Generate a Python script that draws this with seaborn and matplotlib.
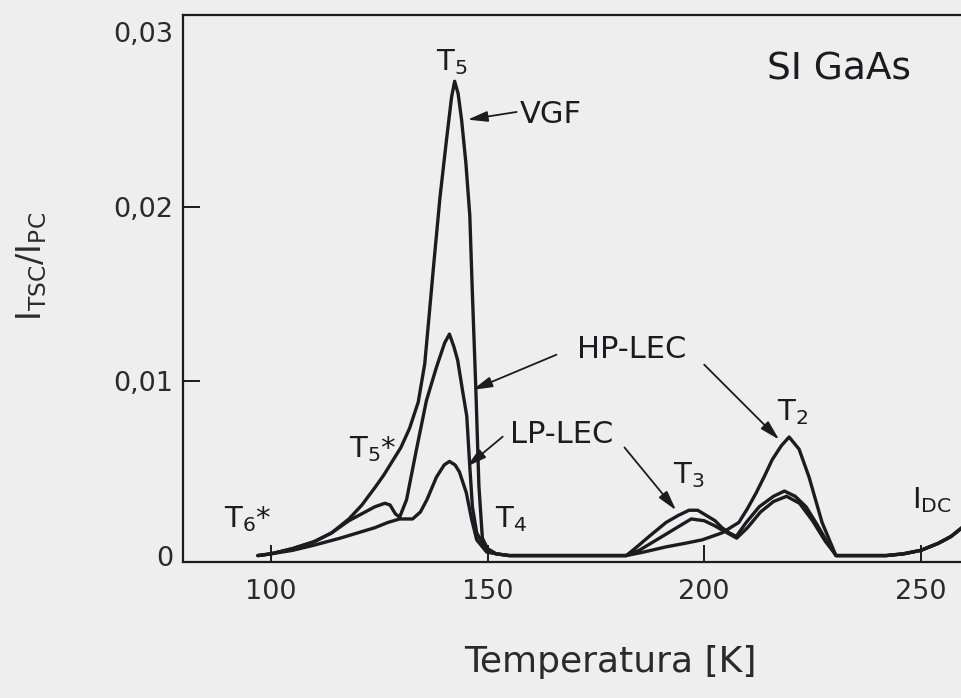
import matplotlib
matplotlib.use("Agg")
import matplotlib.pyplot as plt
import pandas as pd
import seaborn as sns

# Thermally stimulated current spectra (normalised to photocurrent) of SI GaAs samples
temp_vgf = [97, 100, 105, 110, 114, 118, 121, 124, 126, 128,
            130, 132, 134, 135.5, 136.6, 137.5, 139, 140.5, 141.7, 142.4,
            143.2, 144, 145, 145.9, 146.5, 147.3, 148, 148.8, 150, 152,
            155, 182, 185, 189, 193, 197, 200, 202.5, 204.6, 207.5,
            210, 213, 216, 219, 222, 225, 228, 230.5, 242, 246,
            250, 254, 257, 260]
ratio_vgf = [0, 0.0001, 0.0004, 0.0008, 0.0013, 0.0021, 0.0029, 0.0039, 0.0046, 0.0054,
             0.0062, 0.0073, 0.0088, 0.0110, 0.0140, 0.0165, 0.0205, 0.0238, 0.0263, 0.0272,
             0.0265, 0.0250, 0.0225, 0.0195, 0.0150, 0.0095, 0.0040, 0.0010, 0.0004, 0.0001,
             0, 0, 0.0003, 0.0009, 0.0015, 0.0021, 0.0020, 0.0017, 0.0014, 0.0010,
             0.0016, 0.0025, 0.0031, 0.0034, 0.0030, 0.0020, 0.0008, 0, 0, 0.0001,
             0.0003, 0.0007, 0.0011, 0.0017]

temp_hp = [97, 100, 105, 110, 114, 118, 121, 124, 126.3, 127.5,
           128.7, 129.7, 131.3, 133.6, 135.9, 138.2, 140.1, 141.2, 142.2, 143.1,
           144.2, 145.2, 145.9, 146.5, 147.5, 149.8, 152, 155, 182, 186,
           191.2, 195.5, 199.5, 204.1, 208, 210, 212, 214, 215.7, 217.8,
           219.6, 221.9, 224.2, 227.2, 230.4, 242, 246, 250, 254, 257,
           260]
ratio_hp = [0, 0.0001, 0.0004, 0.0008, 0.0013, 0.0020, 0.0024, 0.0028, 0.0030, 0.0029,
            0.0024, 0.0022, 0.0032, 0.0061, 0.0089, 0.0108, 0.0122, 0.0127, 0.0120, 0.0112,
            0.0095, 0.0080, 0.0051, 0.0028, 0.0013, 0.0003, 0.0001, 0, 0, 0.0002,
            0.0005, 0.0007, 0.0009, 0.0013, 0.0019, 0.0027, 0.0036, 0.0046, 0.0055, 0.0063,
            0.0068, 0.0061, 0.0045, 0.0019, 0, 0, 0.0001, 0.0003, 0.0007, 0.0011,
            0.0017]

temp_lp = [97, 100, 105, 110, 116, 120, 124, 127, 129.7, 132.7,
           134.5, 136, 138.2, 140, 141.2, 142.5, 143.5, 145.1, 146.3, 147.5,
           149.8, 152, 155, 182, 184, 187.3, 191.2, 194, 196.5, 198.5,
           200.5, 202.5, 204.1, 205.8, 207.4, 209.7, 212.7, 216, 218.5, 221,
           223.5, 226, 228.1, 230.4, 242, 246, 250, 254, 257, 260]
ratio_lp = [0, 0.0001, 0.0003, 0.0006, 0.0010, 0.0013, 0.0016, 0.0019, 0.0021, 0.0021,
            0.0025, 0.0032, 0.0045, 0.0052, 0.0054, 0.0052, 0.0048, 0.0036, 0.0021, 0.0009,
            0.0002, 0.0001, 0, 0, 0.0004, 0.0011, 0.0019, 0.0023, 0.0026, 0.0026,
            0.0023, 0.0020, 0.0016, 0.0013, 0.0011, 0.0019, 0.0028, 0.0034, 0.0037, 0.0034,
            0.0028, 0.0018, 0.0009, 0, 0, 0.0001, 0.0003, 0.0007, 0.0011, 0.0017]

samples = ["VGF", "HP-LEC", "LP-LEC"]
x_ticks = [100, 150, 200, 250]
x_tick_labels = ["100", "150", "200", "250"]
y_ticks = [0, 0.01, 0.02, 0.03]
y_tick_labels = ["0", "0,01", "0,02", "0,03"]

bg = "#eeeeee"
ink = "#1c1c1e"

sns.set_theme(style="ticks")
plt.rcParams["font.family"] = ["DejaVu Sans"]
plt.rcParams["mathtext.default"] = "regular"

df = pd.concat([
    pd.DataFrame({"T": temp_vgf, "ratio": ratio_vgf, "sample": "VGF"}),
    pd.DataFrame({"T": temp_hp, "ratio": ratio_hp, "sample": "HP-LEC"}),
    pd.DataFrame({"T": temp_lp, "ratio": ratio_lp, "sample": "LP-LEC"}),
], ignore_index=True)

fig = plt.figure(figsize=(9.62, 6.98), dpi=100, facecolor=bg)
ax = fig.add_axes([0.1902, 0.1948, 0.8098, 0.7837])
ax.set_facecolor(bg)

sns.lineplot(data=df, x="T", y="ratio", hue="sample", units="sample",
             estimator=None, sort=False, palette={s: ink for s in samples},
             linewidth=2.4, legend=False, ax=ax)

ax.set_xlim(79.7, 259.5)
ax.set_ylim(-0.00037, 0.0310)
ax.set_xticks(x_ticks)
ax.set_xticklabels(x_tick_labels)
ax.set_yticks(y_ticks)
ax.set_yticklabels(y_tick_labels)
ax.tick_params(direction="in", length=12, width=1.4, colors=ink,
               labelsize=19.5, labelcolor="#2a2a2a")
ax.tick_params(axis="x", pad=12)
ax.tick_params(axis="y", pad=7)
# the outer y ticks sit on the frame corners, only their labels are shown
for i in (0, 3):
    ax.yaxis.get_major_ticks()[i].tick1line.set_visible(False)

for side in ["left", "bottom", "top"]:
    ax.spines[side].set_linewidth(1.6)
    ax.spines[side].set_color(ink)
ax.spines["right"].set_visible(False)

ax.set_xlabel("Temperatura [K]", fontsize=26, color="#2a2a2a")
ax.xaxis.set_label_coords(0.548, -0.183)
ax.xaxis.label.set_verticalalignment("center")
ax.set_ylabel(r"$I_{TSC}/I_{PC}$", fontsize=24, color="#2a2a2a")
ax.yaxis.set_label_coords(-0.172, 0.54)

# Sample labels with arrows pointing to their curves
arrow = dict(arrowstyle="-|>,head_length=0.75,head_width=0.2", color=ink,
             lw=1.3, mutation_scale=16, shrinkA=0, shrinkB=0)
ax.text(164.7, 0.0253, "VGF", fontsize=22, ha="center", va="center", color=ink)
ax.annotate("", xy=(145.4, 0.0250), xytext=(156.7, 0.02544), arrowprops=arrow)

ax.text(183.2, 0.0118, "HP-LEC", fontsize=22, ha="center", va="center", color=ink)
ax.annotate("", xy=(146.5, 0.0095), xytext=(165.9, 0.01152), arrowprops=arrow)
ax.annotate("", xy=(217.3, 0.00665), xytext=(200.0, 0.01095), arrowprops=arrow)

ax.text(167.1, 0.00693, "LP-LEC", fontsize=22, ha="center", va="center", color=ink)
ax.annotate("", xy=(145.2, 0.0051), xytext=(153.5, 0.00682), arrowprops=arrow)
ax.annotate("", xy=(193.5, 0.0026), xytext=(181.6, 0.0062), arrowprops=arrow)

# Trap level labels
peak_labels = [
    (141.7, 0.0283, r"$T_5$"),
    (123.5, 0.0061, r"$T_5$*"),
    (94.7, 0.0021, r"$T_6$*"),
    (155.5, 0.0021, r"$T_4$"),
    (196.5, 0.0046, r"$T_3$"),
    (220.3, 0.0082, r"$T_2$"),
    (252.5, 0.0032, r"$I_{DC}$"),
]
for x, y, s in peak_labels:
    ax.text(x, y, s, fontsize=21, ha="center", va="center", color=ink)

ax.text(231.1, 0.0279, "SI GaAs", fontsize=27, ha="center", va="center", color=ink)

fig.savefig("out.png", dpi=100, facecolor=bg)
